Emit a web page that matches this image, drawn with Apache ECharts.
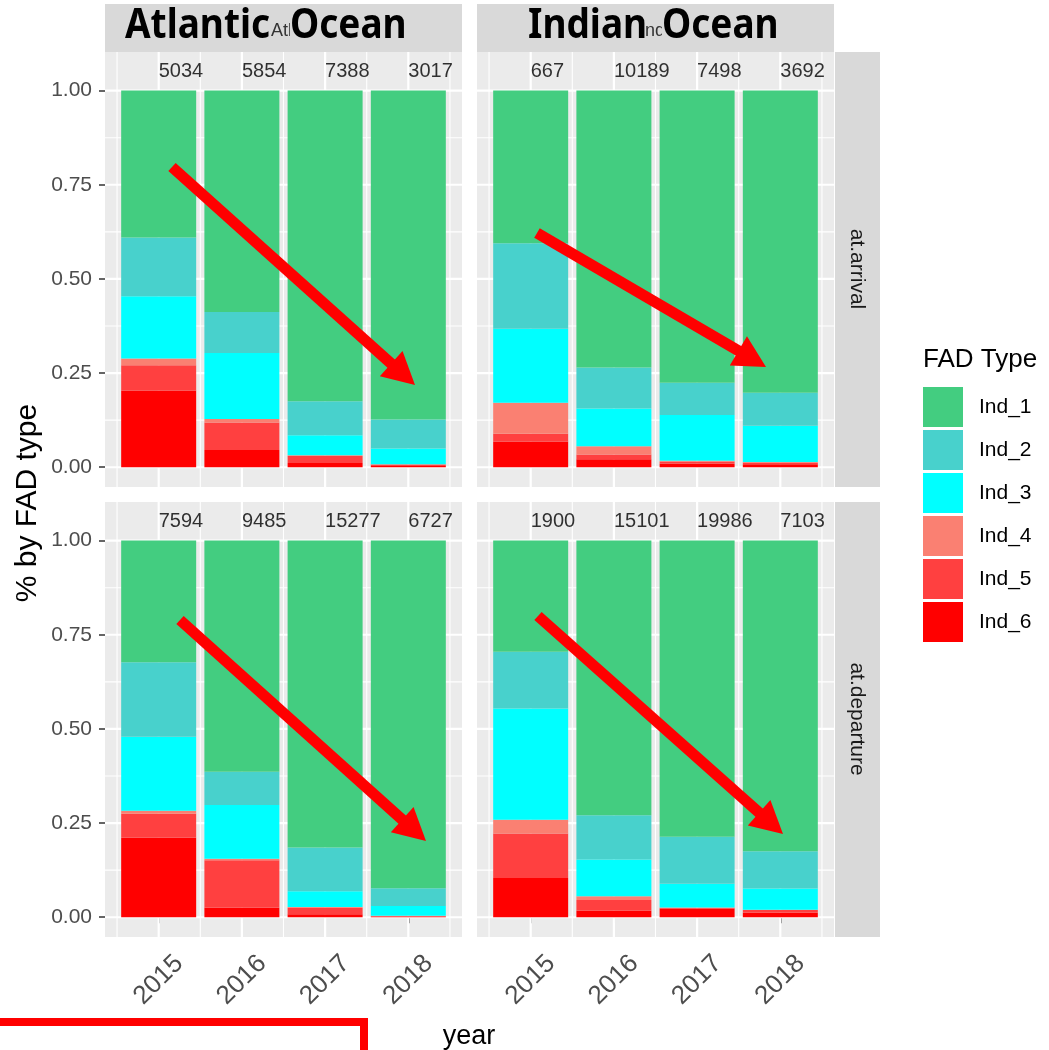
<!DOCTYPE html>
<html>
<head>
<meta charset="utf-8">
<script src="https://cdn.jsdelivr.net/npm/echarts@6/dist/echarts.min.js"></script>
<style>
  html, body { margin: 0; padding: 0; background: #fff; }
  #chart { width: 1049px; height: 1050px; }
</style>
</head>
<body>
<div id="chart"></div>
<script>
var years = [2015, 2016, 2017, 2018];
var fadTypes = ['Ind_1', 'Ind_2', 'Ind_3', 'Ind_4', 'Ind_5', 'Ind_6'];
var fadColors = ['#43CD80', '#48D1CC', '#00FFFF', '#FA8072', '#FF4040', '#FF0000'];

// rows: Ind_1 .. Ind_6, columns: 2015 .. 2018
var atlArrival = [
  [0.390, 0.588, 0.825, 0.873],
  [0.156, 0.109, 0.090, 0.077],
  [0.165, 0.175, 0.053, 0.042],
  [0.018, 0.009, 0.002, 0.001],
  [0.067, 0.073, 0.019, 0.004],
  [0.204, 0.046, 0.011, 0.003]
];
var indArrival = [
  [0.405, 0.735, 0.776, 0.802],
  [0.227, 0.109, 0.085, 0.088],
  [0.197, 0.100, 0.122, 0.096],
  [0.082, 0.022, 0.002, 0.002],
  [0.021, 0.013, 0.006, 0.004],
  [0.068, 0.021, 0.009, 0.008]
];
var atlDeparture = [
  [0.323, 0.614, 0.815, 0.923],
  [0.198, 0.088, 0.116, 0.047],
  [0.196, 0.143, 0.042, 0.026],
  [0.008, 0.004, 0.002, 0.001],
  [0.064, 0.126, 0.017, 0.002],
  [0.211, 0.025, 0.008, 0.001]
];
var indDeparture = [
  [0.295, 0.729, 0.786, 0.825],
  [0.151, 0.118, 0.125, 0.099],
  [0.295, 0.097, 0.063, 0.056],
  [0.037, 0.010, 0.001, 0.001],
  [0.118, 0.029, 0.002, 0.007],
  [0.104, 0.017, 0.023, 0.012]
];

// number of FADs per bar
var atlArrivalN = [5034, 5854, 7388, 3017];
var indArrivalN = [667, 10189, 7498, 3692];
var atlDepartureN = [7594, 9485, 15277, 6727];
var indDepartureN = [1900, 15101, 19986, 7103];

var yTicks = [0, 0.25, 0.5, 0.75, 1];
var yMinor = [0.125, 0.375, 0.625, 0.875];
var xMinor = [2014.5, 2015.5, 2016.5, 2017.5, 2018.5];

var FONT = "'Liberation Sans', Arial, sans-serif";
var X_MIN = 2014.355, X_MAX = 2018.645;   // bars 0.9 wide + 5% expansion
var Y_MIN = -0.0525, Y_MAX = 1.1025;      // 0..1.05 (count labels) + 5%
var COUNT_Y = 1.05;
var PANEL_W = 357, PANEL_H = 435;

var panels = [
  { shares: atlArrival, counts: atlArrivalN, left: 105, top: 52, xLab: false, yLab: true },
  { shares: indArrival, counts: indArrivalN, left: 477, top: 52, xLab: false, yLab: false },
  { shares: atlDeparture, counts: atlDepartureN, left: 105, top: 502, xLab: true, yLab: true },
  { shares: indDeparture, counts: indDepartureN, left: 477, top: 502, xLab: true, yLab: false }
];

var grids = [], xAxes = [], yAxes = [], series = [];

panels.forEach(function (p, i) {
  grids.push({
    left: p.left, top: p.top, width: PANEL_W, height: PANEL_H,
    show: true, backgroundColor: '#EBEBEB', borderWidth: 0
  });
  xAxes.push({
    gridIndex: i, type: 'value', min: X_MIN, max: X_MAX,
    splitLine: { show: false },
    axisLine: { show: false },
    axisTick: { show: p.xLab, customValues: years, length: 6, lineStyle: { color: '#333333', width: 1.5 } },
    axisLabel: {
      show: p.xLab, customValues: years, rotate: 45, align: 'center', verticalAlign: 'middle',
      margin: 43, fontSize: 26, color: '#4D4D4D', fontFamily: FONT,
      formatter: function (v) { return String(v); }
    }
  });
  yAxes.push({
    gridIndex: i, type: 'value', min: Y_MIN, max: Y_MAX,
    splitLine: { show: false },
    axisLine: { show: false },
    axisTick: { show: p.yLab, customValues: yTicks, length: 6, lineStyle: { color: '#333333', width: 1.5 } },
    axisLabel: {
      show: p.yLab, customValues: yTicks, margin: 13, fontSize: 21, color: '#4D4D4D', fontFamily: FONT,
      formatter: function (v) { return v.toFixed(2); }
    }
  });

  // panel grid lines (major + minor), behind the bars
  var gl = [];
  years.forEach(function (v) { gl.push([v, 0]); });
  xMinor.forEach(function (v) { gl.push([v, 1]); });
  yTicks.forEach(function (v) { gl.push([v, 2]); });
  yMinor.forEach(function (v) { gl.push([v, 3]); });
  series.push({
    type: 'custom', xAxisIndex: i, yAxisIndex: i, z: 1, silent: true, data: gl,
    renderItem: function (params, api) {
      var cs = params.coordSys;
      var v = api.value(0), kind = api.value(1);
      var w = (kind === 0 || kind === 2) ? 2.2 : 1.1;
      if (kind < 2) {
        var px = api.coord([v, 0])[0];
        return { type: 'line', shape: { x1: px, y1: cs.y, x2: px, y2: cs.y + cs.height },
                 style: { stroke: '#FFFFFF', lineWidth: w } };
      }
      var py = api.coord([X_MIN, v])[1];
      return { type: 'line', shape: { x1: cs.x, y1: py, x2: cs.x + cs.width, y2: py },
               style: { stroke: '#FFFFFF', lineWidth: w } };
    }
  });

  // stacked bars, Ind_6 at the bottom
  for (var k = fadTypes.length - 1; k >= 0; k--) {
    series.push({
      type: 'bar', name: fadTypes[k], xAxisIndex: i, yAxisIndex: i,
      stack: 'panel' + i, barWidth: 75, silent: true,
      encode: { x: 1, y: 0 },
      itemStyle: { color: fadColors[k] },
      data: years.map(function (y, j) { return [p.shares[k][j], y]; })
    });
  }

  // counts above bars
  series.push({
    type: 'scatter', xAxisIndex: i, yAxisIndex: i, silent: true, z: 5,
    symbol: 'circle', symbolSize: 1, itemStyle: { color: 'transparent' },
    data: years.map(function (y, j) { return [y, COUNT_Y, p.counts[j]]; }),
    label: {
      show: true, position: 'inside', align: 'left', verticalAlign: 'middle',
      fontSize: 20, color: '#000000', fontFamily: FONT,
      formatter: function (d) { return String(d.value[2]); }
    }
  });
});

function arrow(x1, y1, x2, y2) {
  var dx = x2 - x1, dy = y2 - y1, len = Math.sqrt(dx * dx + dy * dy);
  var ux = dx / len, uy = dy / len;
  var headLen = 32, half = 17;
  var bx = x2 - ux * headLen, by = y2 - uy * headLen;
  return [
    { type: 'line', z: 100, shape: { x1: x1, y1: y1, x2: bx + ux * 3, y2: by + uy * 3 },
      style: { stroke: '#FF0000', lineWidth: 11, lineCap: 'butt' } },
    { type: 'polygon', z: 100,
      shape: { points: [[x2, y2], [bx - uy * half, by + ux * half], [bx + uy * half, by - ux * half]] },
      style: { fill: '#FF0000' } }
  ];
}

var stripFill = '#D9D9D9';
var bigFont = "bold 37px 'Noto Sans'";
var graphics = [
  // top strips
  { type: 'rect', z: 10, shape: { x: 105, y: 4, width: PANEL_W, height: 48 }, style: { fill: stripFill } },
  { type: 'rect', z: 10, shape: { x: 477, y: 4, width: PANEL_W, height: 48 }, style: { fill: stripFill } },
  // right strips
  { type: 'rect', z: 10, shape: { x: 835, y: 52, width: 45, height: PANEL_H }, style: { fill: stripFill } },
  { type: 'rect', z: 10, shape: { x: 835, y: 502, width: 45, height: PANEL_H }, style: { fill: stripFill } },
  { type: 'text', z: 11, x: 857, y: 269, rotation: -Math.PI / 2,
    style: { text: 'at.arrival', fontSize: 21, fontFamily: FONT, fill: '#1A1A1A', align: 'center', verticalAlign: 'middle' } },
  { type: 'text', z: 11, x: 857, y: 719, rotation: -Math.PI / 2,
    style: { text: 'at.departure', fontSize: 21, fontFamily: FONT, fill: '#1A1A1A', align: 'center', verticalAlign: 'middle' } },
  // original small strip labels
  { type: 'text', z: 11, x: 271, y: 31,
    style: { text: 'Atlantic', fontSize: 18, fontFamily: FONT, fill: '#333333', align: 'left', verticalAlign: 'middle' } },
  { type: 'text', z: 11, x: 640, y: 31,
    style: { text: 'Indian', fontSize: 18, fontFamily: FONT, fill: '#333333', align: 'left', verticalAlign: 'middle' } },
  // overlaid big titles
  { type: 'text', z: 12, x: 125, y: 26, scaleY: 1.12,
    style: { text: 'Atlantic', font: bigFont, fill: '#000000', align: 'left', verticalAlign: 'middle' } },
  { type: 'text', z: 12, x: 290, y: 26, scaleY: 1.12,
    style: { text: 'Ocean', font: bigFont, fill: '#000000', align: 'left', verticalAlign: 'middle',
             backgroundColor: stripFill, padding: [0, 2, 0, 0] } },
  { type: 'text', z: 12, x: 528, y: 26, scaleY: 1.12,
    style: { text: 'Indian', font: bigFont, fill: '#000000', align: 'left', verticalAlign: 'middle' } },
  { type: 'text', z: 12, x: 662, y: 26, scaleY: 1.12,
    style: { text: 'Ocean', font: bigFont, fill: '#000000', align: 'left', verticalAlign: 'middle',
             backgroundColor: stripFill, padding: [0, 2, 0, 0] } },
  // axis titles
  { type: 'text', z: 11, x: 28, y: 503, rotation: Math.PI / 2,
    style: { text: '% by FAD type', fontSize: 30, fontFamily: FONT, fill: '#000000', align: 'center', verticalAlign: 'middle' } },
  { type: 'text', z: 11, x: 469, y: 1037,
    style: { text: 'year', fontSize: 27, fontFamily: FONT, fill: '#000000', align: 'center', verticalAlign: 'middle' } },
  // legend title
  { type: 'text', z: 11, x: 923, y: 360,
    style: { text: 'FAD Type', fontSize: 26, fontFamily: FONT, fill: '#000000', align: 'left', verticalAlign: 'middle' } },
  // red bracket bottom left
  { type: 'polyline', z: 100, shape: { points: [[0, 1022], [364, 1022], [364, 1052]] },
    style: { stroke: '#FF0000', lineWidth: 8, fill: null } }
];
graphics = graphics
  .concat(arrow(172, 167, 415, 385))
  .concat(arrow(537, 233, 766, 367))
  .concat(arrow(180, 620, 426, 841))
  .concat(arrow(538, 616, 783, 834));

var chart = echarts.init(document.getElementById('chart'), null, { renderer: 'canvas' });
chart.setOption({
  animation: false,
  backgroundColor: '#FFFFFF',
  grid: grids,
  xAxis: xAxes,
  yAxis: yAxes,
  legend: {
    data: fadTypes, orient: 'vertical', left: 923, top: 387,
    itemWidth: 40, itemHeight: 40, itemGap: 3, padding: 0,
    icon: 'rect', selectedMode: false,
    textStyle: { fontSize: 21, color: '#000000', fontFamily: FONT, padding: [0, 0, 0, 11] }
  },
  graphic: graphics,
  series: series
});
</script>
</body>
</html>
